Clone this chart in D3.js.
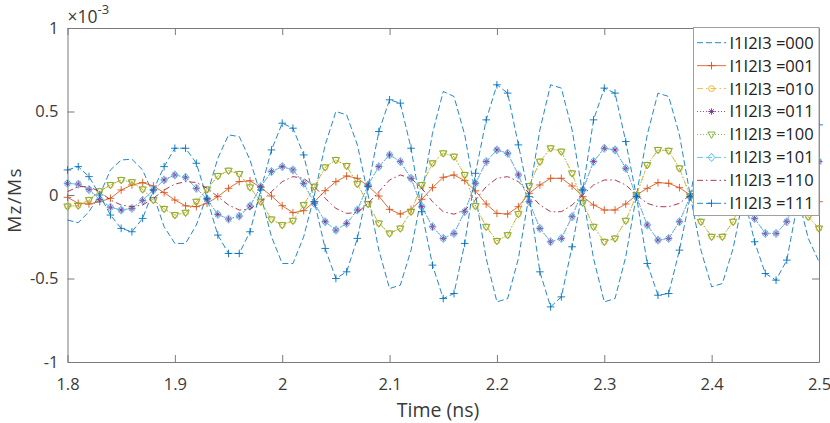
<!DOCTYPE html>
<html><head><meta charset="utf-8">
<script src="https://cdn.jsdelivr.net/npm/d3@7"></script>
<style>
html,body{margin:0;padding:0;background:#fff;}
svg{display:block;}
text{font-family:"Open Sans","Noto Sans",sans-serif;}
</style></head>
<body><svg id="chart" width="830" height="423"></svg>
<script>
const time = [1.80,1.81,1.82,1.83,1.84,1.85,1.86,1.87,1.88,1.89,
  1.90,1.91,1.92,1.93,1.94,1.95,1.96,1.97,1.98,1.99,
  2.00,2.01,2.02,2.03,2.04,2.05,2.06,2.07,2.08,2.09,
  2.10,2.11,2.12,2.13,2.14,2.15,2.16,2.17,2.18,2.19,
  2.20,2.21,2.22,2.23,2.24,2.25,2.26,2.27,2.28,2.29,
  2.30,2.31,2.32,2.33,2.34,2.35,2.36,2.37,2.38,2.39,
  2.40,2.41,2.42,2.43,2.44,2.45,2.46,2.47,2.48,2.49,2.50];

// Mz/Ms values in units of 1e-3
const s000 = [-0.15,-0.166,-0.10,0.0,0.15,0.21,0.214,0.15,0.0,-0.19,
  -0.29,-0.29,-0.18,0.0,0.22,0.36,0.35,0.21,0.0,-0.25,
  -0.41,-0.41,-0.25,0.0,0.30,0.50,0.48,0.30,0.0,-0.33,
  -0.56,-0.54,-0.33,0.0,0.37,0.62,0.59,0.36,0.0,-0.38,
  -0.64,-0.62,-0.38,0.0,0.39,0.66,0.64,0.39,0.0,-0.38,
  -0.64,-0.62,-0.37,0.0,0.36,0.61,0.59,0.36,0.0,-0.33,
  -0.55,-0.53,-0.32,0.0,0.30,0.50,0.49,0.29,0.0,-0.26,-0.40];
const s001 = [-0.014,-0.05,-0.054,-0.04,-0.02,0.03,0.06,0.074,0.054,0.014,
  -0.03,-0.065,-0.07,-0.05,-0.01,0.04,0.08,0.085,0.045,-0.006,
  -0.064,-0.106,-0.094,-0.04,0.026,0.08,0.114,0.10,0.054,-0.006,
  -0.086,-0.114,-0.086,-0.026,0.044,0.106,0.12,0.086,0.025,-0.054,
  -0.11,-0.114,-0.07,0.01,0.06,0.10,0.10,0.054,-0.01,-0.06,
  -0.09,-0.09,-0.054,0.0,0.04,0.074,0.07,0.044,0.0,-0.04,
  -0.07,-0.07,-0.04,0.0,0.04,0.06,0.06,0.03,0.0,-0.03,-0.04];
const s010 = [-0.068,-0.063,-0.03,0.023,0.06,0.09,0.077,0.034,-0.03,-0.083,
  -0.12,-0.106,-0.04,0.034,0.114,0.146,0.126,0.046,-0.04,-0.146,
  -0.18,-0.154,-0.06,0.05,0.166,0.21,0.174,0.066,-0.054,-0.17,
  -0.23,-0.20,-0.10,0.06,0.19,0.25,0.23,0.12,-0.066,-0.19,
  -0.275,-0.24,-0.114,0.054,0.20,0.28,0.26,0.13,-0.046,-0.19,
  -0.28,-0.26,-0.154,0.0,0.18,0.27,0.265,0.16,-0.006,-0.16,
  -0.25,-0.25,-0.16,0.0,0.15,0.24,0.24,0.15,0.0,-0.13,-0.20];
const s011 = [0.07,0.065,0.032,-0.027,-0.073,-0.09,-0.08,-0.032,0.03,0.09,
  0.12,0.106,0.04,-0.026,-0.116,-0.144,-0.126,-0.066,0.05,0.14,
  0.17,0.15,0.07,-0.05,-0.16,-0.21,-0.17,-0.09,0.06,0.17,
  0.24,0.20,0.10,-0.07,-0.19,-0.26,-0.23,-0.10,0.07,0.20,
  0.27,0.25,0.12,-0.04,-0.20,-0.28,-0.26,-0.13,0.03,0.20,
  0.28,0.27,0.16,-0.01,-0.18,-0.27,-0.26,-0.16,-0.01,0.15,
  0.25,0.25,0.15,0.0,-0.14,-0.23,-0.23,-0.16,0.0,0.14,0.20];
const s100 = [-0.068,-0.063,-0.03,0.023,0.06,0.09,0.077,0.034,-0.03,-0.083,
  -0.12,-0.106,-0.04,0.034,0.114,0.146,0.126,0.046,-0.04,-0.146,
  -0.18,-0.154,-0.06,0.05,0.166,0.21,0.174,0.066,-0.054,-0.17,
  -0.23,-0.20,-0.10,0.06,0.19,0.25,0.23,0.12,-0.066,-0.19,
  -0.275,-0.24,-0.114,0.054,0.20,0.28,0.26,0.13,-0.046,-0.19,
  -0.28,-0.26,-0.154,0.0,0.18,0.27,0.265,0.16,-0.006,-0.16,
  -0.25,-0.25,-0.16,0.0,0.15,0.24,0.24,0.15,0.0,-0.13,-0.20];
const s101 = [0.07,0.065,0.032,-0.027,-0.073,-0.09,-0.08,-0.032,0.03,0.09,
  0.12,0.106,0.04,-0.026,-0.116,-0.144,-0.126,-0.066,0.05,0.14,
  0.17,0.15,0.07,-0.05,-0.16,-0.21,-0.17,-0.09,0.06,0.17,
  0.24,0.20,0.10,-0.07,-0.19,-0.26,-0.23,-0.10,0.07,0.20,
  0.27,0.25,0.12,-0.04,-0.20,-0.28,-0.26,-0.13,0.03,0.20,
  0.28,0.27,0.16,-0.01,-0.18,-0.27,-0.26,-0.16,-0.01,0.15,
  0.25,0.25,0.15,0.0,-0.14,-0.23,-0.23,-0.16,0.0,0.14,0.20];
const s110 = [0.02,0.05,0.05,0.02,-0.03,-0.06,-0.07,-0.06,-0.02,0.03,
  0.065,0.08,0.075,0.04,-0.01,-0.06,-0.09,-0.085,-0.04,0.02,
  0.08,0.11,0.10,0.05,-0.02,-0.08,-0.11,-0.105,-0.05,0.02,
  0.09,0.12,0.10,0.04,-0.04,-0.10,-0.115,-0.09,-0.03,0.05,
  0.10,0.11,0.08,0.01,-0.06,-0.10,-0.10,-0.06,0.0,0.06,
  0.09,0.09,0.06,0.0,-0.05,-0.07,-0.07,-0.05,0.0,0.04,
  0.07,0.07,0.04,0.0,-0.04,-0.06,-0.06,-0.03,0.0,0.03,0.04];
const s111 = [0.15,0.17,0.11,0.0,-0.12,-0.20,-0.22,-0.14,0.03,0.17,
  0.28,0.28,0.19,-0.02,-0.24,-0.35,-0.35,-0.22,0.03,0.27,
  0.43,0.40,0.24,-0.04,-0.32,-0.50,-0.46,-0.26,0.05,0.38,
  0.57,0.55,0.28,-0.10,-0.42,-0.62,-0.59,-0.29,0.13,0.45,
  0.66,0.61,0.30,-0.01,-0.46,-0.67,-0.61,-0.31,0.03,0.45,
  0.64,0.61,0.32,-0.01,-0.41,-0.60,-0.59,-0.33,-0.01,0.35,
  0.55,0.53,0.30,0.0,-0.28,-0.47,-0.51,-0.39,-0.05,0.28,0.42];

const seriesNames = ["I1I2I3 =000","I1I2I3 =001","I1I2I3 =010","I1I2I3 =011",
  "I1I2I3 =100","I1I2I3 =101","I1I2I3 =110","I1I2I3 =111"];
const seriesValues = [s000,s001,s010,s011,s100,s101,s110,s111];
const xTicks = [1.8,1.9,2.0,2.1,2.2,2.3,2.4,2.5];
const xTickLabels = ["1.8","1.9","2","2.1","2.2","2.3","2.4","2.5"];
const yTicks = [-1,-0.5,0,0.5,1];
const yTickLabels = ["-1","-0.5","0","0.5","1"];

const styles = [
  {color:"#0072BD", dash:"6,3", marker:null},
  {color:"#D95319", dash:null, marker:"plus"},
  {color:"#EDB120", dash:"6,3,1.5,3", marker:"circle"},
  {color:"#7E2F8E", dash:"1,2", marker:"star"},
  {color:"#77AC30", dash:"1,2", marker:"tri"},
  {color:"#4DBEEE", dash:"6,3", marker:"diamond"},
  {color:"#A2142F", dash:"6,3,1.5,3", marker:null},
  {color:"#0072BD", dash:"6,3", marker:"plus"}
];

const svg = d3.select("#chart");
const L = 67.5, R = 819, T = 28, B = 362;
const x = d3.scaleLinear().domain([1.8,2.5]).range([L,R]);
const y = d3.scaleLinear().domain([-1,1]).range([B,T]);
const axisColor = "#7a7a7a", textColor = "#3a3a3a";
const FONT = '"Open Sans","Noto Sans",sans-serif';

function markerPath(type){
  switch(type){
    case "plus": return "M-3.8,0H3.8M0,-3.8V3.8";
    case "star": return "M-3.2,0H3.2M0,-3.2V3.2M-2.3,-2.3L2.3,2.3M-2.3,2.3L2.3,-2.3";
    case "diamond": return "M0,-4.2L3.4,0L0,4.2L-3.4,0Z";
    case "tri": return "M-3.7,-2.4L3.7,-2.4L0,3.9Z";
    default: return null;
  }
}
function drawMarker(g, type, color, px, py){
  if(type === "circle"){
    g.append("circle").attr("cx",px).attr("cy",py).attr("r",2.9)
      .attr("fill","none").attr("stroke",color).attr("stroke-width",0.9);
  } else {
    g.append("path").attr("d",markerPath(type)).attr("transform",`translate(${px},${py})`)
      .attr("fill","none").attr("stroke",color).attr("stroke-width",0.9);
  }
}

// axes
const gx = svg.append("g").attr("transform",`translate(0,${B})`)
  .call(d3.axisBottom(x).tickValues(xTicks).tickFormat((d,i)=>xTickLabels[i]).tickSizeInner(-7).tickSizeOuter(0).tickPadding(16));
const gxt = svg.append("g").attr("transform",`translate(0,${T})`)
  .call(d3.axisTop(x).tickValues(xTicks).tickFormat("").tickSizeInner(-7).tickSizeOuter(0));
const gy = svg.append("g").attr("transform",`translate(${L},0)`)
  .call(d3.axisLeft(y).tickValues(yTicks).tickFormat((d,i)=>yTickLabels[i]).tickSizeInner(-7).tickSizeOuter(0).tickPadding(9));
const gyr = svg.append("g").attr("transform",`translate(${R},0)`)
  .call(d3.axisRight(y).tickValues(yTicks).tickFormat("").tickSizeInner(-7).tickSizeOuter(0));
[gx,gxt,gy,gyr].forEach(g=>{
  g.selectAll("path.domain").attr("stroke",axisColor).attr("stroke-width",1);
  g.selectAll(".tick line").attr("stroke",axisColor).attr("stroke-width",1);
  g.selectAll(".tick text").attr("fill",textColor).style("font-size","16.5px")
    .style("font-family",FONT);
});

// data
const line = d3.line().x((d,i)=>x(time[i])).y(d=>y(d));
const gData = svg.append("g");
seriesValues.forEach((vals,k)=>{
  const st = styles[k];
  const g = gData.append("g");
  g.append("path").attr("d",line(vals)).attr("fill","none")
    .attr("stroke",st.color).attr("stroke-width",0.85)
    .attr("stroke-dasharray",st.dash);
  if(st.marker){
    vals.forEach((v,i)=>drawMarker(g, st.marker, st.color, x(time[i]), y(v)));
  }
});

// exponent label
const ex = svg.append("text").attr("x",L).attr("y",23).attr("fill",textColor).style("font-size","17.5px");
ex.append("tspan").text("\u00D710");
ex.append("tspan").attr("dy",-9).style("font-size","13px").text("-3");

// axis titles
svg.append("text").attr("x",438).attr("y",416.5).attr("text-anchor","middle")
  .attr("fill",textColor).style("font-size","19.5px").text("Time (ns)");
svg.append("text").attr("transform",`translate(21,200) rotate(-90)`).attr("text-anchor","middle")
  .attr("fill",textColor).style("font-size","19px").style("letter-spacing","1.3px").text("Mz/Ms");

// legend
const lg = svg.append("g");
const lgX = 693.5, lgY = 27.5, lgW = 125.5, lgH = 188;
lg.append("rect").attr("x",lgX).attr("y",lgY).attr("width",lgW).attr("height",lgH)
  .attr("fill","#fff").attr("stroke","#a0a0a0").attr("stroke-width",1);
const rowY = d3.scaleLinear().domain([0,7]).range([42.7,203.3]);
seriesNames.forEach((name,k)=>{
  const st = styles[k];
  const yy = rowY(k);
  lg.append("line").attr("x1",697).attr("x2",726).attr("y1",yy).attr("y2",yy)
    .attr("stroke",st.color).attr("stroke-width",0.85).attr("stroke-dasharray",st.dash);
  if(st.marker) drawMarker(lg, st.marker, st.color, 711.5, yy);
  lg.append("text").attr("x",729.5).attr("y",yy).attr("dy","0.36em")
    .attr("fill","#222").style("font-size","16.5px").text(name);
});
</script></body></html>
